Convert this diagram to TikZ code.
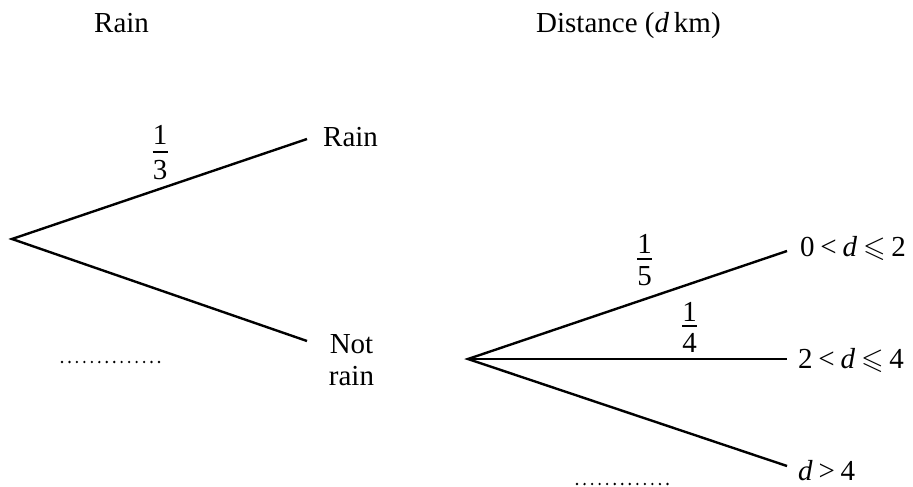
\documentclass[tikz,border=0pt]{standalone}
\usepackage{fontspec}
\setmainfont{Liberation Serif}
\usepackage{amssymb}
\DeclareFontFamily{U}{msa}{}
\DeclareFontShape{U}{msa}{m}{n}{<-> msam10}{}
\newcommand\rl[1]{\hspace{0.2em}#1\hspace{0.2em}}
\begin{document}
\begin{tikzpicture}[x=1pt,y=-1pt,
  lbl/.style={inner sep=0pt, anchor=base west, font=\fontsize{29}{34}\selectfont},
  branch/.style={line width=2.4pt},
  dotline/.style={line width=2.6pt, line cap=round, dash pattern=on 0pt off 7.46pt},
  frbar/.style={line width=1.3pt}]
\useasboundingbox (0,0) rectangle (913,487);
% tree 1
\coordinate (r1) at (12,239);
\coordinate (e1) at (307,139);
\coordinate (e2) at (307,341);
\draw[branch] (e1) -- (r1) -- (e2);
% tree 2
\coordinate (r2) at (468,359);
\coordinate (f1) at (787,251);
\coordinate (f2) at (787,359);
\coordinate (f3) at (787,466);
\draw[branch] (f1) -- (r2) -- (f3);
\draw[branch] (r2) -- (f2);
% headers
\node[lbl] (h1) at (94,33) {Rain};
\node[lbl] (h2) at (536,33) {Distance (\textit{d}\,km)};
% outcome labels
\node[lbl] (l1) at (323,146) {Rain};
\node[lbl,anchor=base] (l2a) at (351.5,353) {Not};
\node[lbl,anchor=base] (l2b) at (351.5,385) {rain};
\node[lbl] (l3) at (800,256) {0\rl{<}\textit{d}\rl{$\leqslant$}2};
\node[lbl] (l4) at (798,368) {2\rl{<}\textit{d}\rl{$\leqslant$}4};
\node[lbl] (l5) at (798,480) {\textit{d}\rl{>}4};
% fraction 1/3
\coordinate (b1a) at (152.5,152); \coordinate (b1b) at (167.5,152);
\draw[frbar] (b1a) -- (b1b);
\node[lbl,anchor=base] (n1) at (160,144) {1};
\node[lbl,anchor=base] (d1) at (160,179) {3};
% fraction 1/5
\coordinate (b2a) at (637,259); \coordinate (b2b) at (652,259);
\draw[frbar] (b2a) -- (b2b);
\node[lbl,anchor=base] (n2) at (644.5,253) {1};
\node[lbl,anchor=base] (d2) at (644.5,285) {5};
% fraction 1/4
\coordinate (b3a) at (682,326); \coordinate (b3b) at (697,326);
\draw[frbar] (b3a) -- (b3b);
\node[lbl,anchor=base] (n3) at (689.5,321) {1};
\node[lbl,anchor=base] (d3) at (689.5,352) {4};
% answer dots
\coordinate (p1a) at (62,362); \coordinate (p1b) at (159,362);
\draw[dotline] (p1a) -- (p1b);
\coordinate (p2a) at (577,484); \coordinate (p2b) at (675,484);
\draw[dotline, dash pattern=on 0pt off 7.54pt] (p2a) -- (p2b);
\end{tikzpicture}
\end{document}
